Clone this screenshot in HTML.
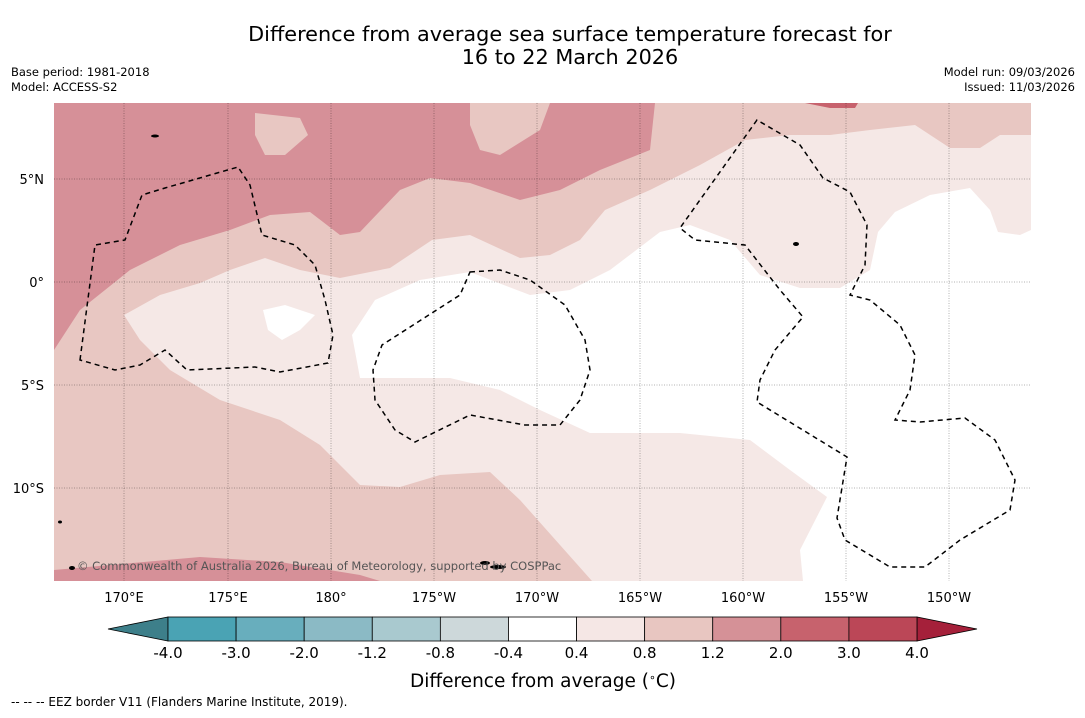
<!DOCTYPE html>
<html><head><meta charset="utf-8"><style>
body{margin:0;background:#fff;font-family:"Liberation Sans","DejaVu Sans",sans-serif;}
svg text{font-family:"DejaVu Sans","Liberation Sans",sans-serif;}
</style></head><body>
<svg width="1085" height="713" viewBox="0 0 1085 713">
<text x="570" y="41" font-size="20.8" text-anchor="middle">Difference from average sea surface temperature forecast for</text>
<text x="570" y="64" font-size="20.8" text-anchor="middle">16 to 22 March 2026</text>
<text x="11" y="76" font-size="11.5">Base period: 1981-2018</text>
<text x="11" y="91" font-size="11.5">Model: ACCESS-S2</text>
<text x="1075" y="76" font-size="11.5" text-anchor="end">Model run: 09/03/2026</text>
<text x="1075" y="91" font-size="11.5" text-anchor="end">Issued: 11/03/2026</text>
<defs><clipPath id="mc"><rect x="54" y="103" width="977" height="478"/></clipPath></defs>
<g clip-path="url(#mc)">
<rect x="54" y="103" width="977" height="478" fill="#e8c7c2"/>
<path fill="#f5e8e6" d="M124,315 L160,295 200,283 230,270 265,258 300,270 340,278 390,268 432,240 470,235 520,258 550,255 580,240 605,210 650,190 700,165 745,140 790,135 830,135 870,130 915,125 950,148 980,148 1000,135 1031,135 1031,581 592,581 560,545 520,500 490,472 440,475 400,487 360,485 320,445 280,420 220,400 170,370 140,340 Z"/>
<path fill="#ffffff" d="M352,335 L375,300 420,280 470,272 530,295 570,290 610,270 660,232 690,225 730,240 760,275 800,288 840,288 870,270 878,232 895,212 930,195 970,188 990,210 998,232 1020,235 1031,230 1031,581 803,581 800,550 827,497 790,470 750,440 680,433 590,433 540,410 500,390 450,378 400,378 360,378 Z M263,310 L285,305 315,315 300,330 282,340 268,330 Z"/>
<path fill="#d69098" fill-rule="evenodd" d="M54,103 L655,103 650,150 600,170 560,190 520,200 470,183 430,178 400,190 360,232 340,235 310,212 270,215 230,230 180,245 130,270 80,310 54,350 Z M255,113 L300,118 308,135 285,155 265,155 255,135 Z M470,103 L550,103 540,130 500,155 480,150 470,125 Z"/>
<path fill="#d69098" d="M54,570 L110,565 200,557 280,562 360,575 380,581 54,581 Z"/>
<path fill="#c7626d" d="M805,103 L858,103 855,108 830,108 Z"/>
<g stroke="#000" stroke-width="0.5" stroke-dasharray="1,1.5" opacity="0.6">
<line x1="124" y1="103" x2="124" y2="581"/><line x1="228" y1="103" x2="228" y2="581"/><line x1="331" y1="103" x2="331" y2="581"/><line x1="434" y1="103" x2="434" y2="581"/><line x1="537" y1="103" x2="537" y2="581"/><line x1="640" y1="103" x2="640" y2="581"/><line x1="743" y1="103" x2="743" y2="581"/><line x1="846" y1="103" x2="846" y2="581"/><line x1="949" y1="103" x2="949" y2="581"/>
<line x1="54" y1="179" x2="1031" y2="179"/><line x1="54" y1="282" x2="1031" y2="282"/><line x1="54" y1="385" x2="1031" y2="385"/><line x1="54" y1="488" x2="1031" y2="488"/>
</g>
<g fill="none" stroke="#000" stroke-width="1.5" stroke-dasharray="5,4">
<path d="M80,360 L95,245 125,240 142,195 165,188 238,167 250,185 262,235 295,245 315,265 325,300 333,335 328,363 280,372 255,367 187,370 165,350 140,365 115,370 Z"/>
<path d="M470,272 L500,270 530,280 565,305 585,340 590,370 580,400 560,425 525,425 470,415 415,442 395,430 375,400 373,370 382,345 460,295 Z"/>
<path d="M757,120 L680,228 695,240 745,245 780,290 803,317 775,350 760,380 757,402 847,457 837,518 845,540 890,567 925,567 960,540 1010,510 1015,480 995,440 965,418 920,422 895,420 910,390 915,355 900,325 870,300 850,295 865,265 867,225 850,192 823,178 800,145 Z"/>
</g>
<g fill="#000">
<ellipse cx="498" cy="567" rx="8" ry="2"/><ellipse cx="485" cy="563" rx="5" ry="2"/><ellipse cx="72" cy="568" rx="3" ry="2"/><ellipse cx="60" cy="522" rx="2" ry="1.5"/><ellipse cx="796" cy="244" rx="3" ry="2"/><ellipse cx="155" cy="136" rx="4" ry="1.5"/>
</g>
<text x="77" y="570" font-size="11.5" fill="#555">© Commonwealth of Australia 2026, Bureau of Meteorology, supported by COSPPac</text>
</g>
<g font-size="13">
<text x="44" y="184" text-anchor="end">5°N</text><text x="44" y="287" text-anchor="end">0°</text><text x="44" y="390" text-anchor="end">5°S</text><text x="44" y="493" text-anchor="end">10°S</text>
</g>
<g font-size="13" text-anchor="middle">
<text x="124" y="602">170°E</text><text x="228" y="602">175°E</text><text x="331" y="602">180°</text><text x="434" y="602">175°W</text><text x="537" y="602">170°W</text><text x="640" y="602">165°W</text><text x="743" y="602">160°W</text><text x="846" y="602">155°W</text><text x="949" y="602">150°W</text>
</g>
<g id="cbar"></g>
<text x="543" y="687" font-size="18.5" text-anchor="middle">Difference from average (<tspan baseline-shift="super" font-size="11">∘</tspan>C)</text>
<text x="11" y="706" font-size="12">-- -- -- EEZ border V11 (Flanders Marine Institute, 2019).</text>
</svg>
<script>
const tickLabels=["-4.0","-3.0","-2.0","-1.2","-0.8","-0.4","0.4","0.8","1.2","2.0","3.0","4.0"];
const binColors=["#4aa3b4","#68aebd","#8bbac5","#a9c9cf","#cdd8da","#ffffff","#f5e7e5","#e8c6c1","#d59197","#c7626d","#bb4757"];
const ns="http://www.w3.org/2000/svg";
const g=document.getElementById('cbar');
const x0=168,x1=917,y0=617,h=24,w=(x1-x0)/binColors.length;
function mk(t,a){const e=document.createElementNS(ns,t);for(const k in a)e.setAttribute(k,a[k]);g.appendChild(e);return e;}
const lt=mk('polygon',{points:`108,629 ${x0},${y0} ${x0},${y0+h}`,fill:'#3d7f8a',stroke:'#000','stroke-width':0.8});


const rt=mk('polygon',{points:`977,629 ${x1},${y0} ${x1},${y0+h}`,fill:'#a5203a',stroke:'#000','stroke-width':0.8});


binColors.forEach((c,i)=>{
 const r=mk('rect',{x:x0+i*w,y:y0,width:w,height:h,fill:c,stroke:'#000','stroke-width':0.8});
 
 
});
tickLabels.forEach((t,i)=>{
 const e=mk('text',{x:x0+i*w,y:658,'font-size':15,'text-anchor':'middle'});
 e.textContent=t;
 
 
});
</script>
</body></html>
